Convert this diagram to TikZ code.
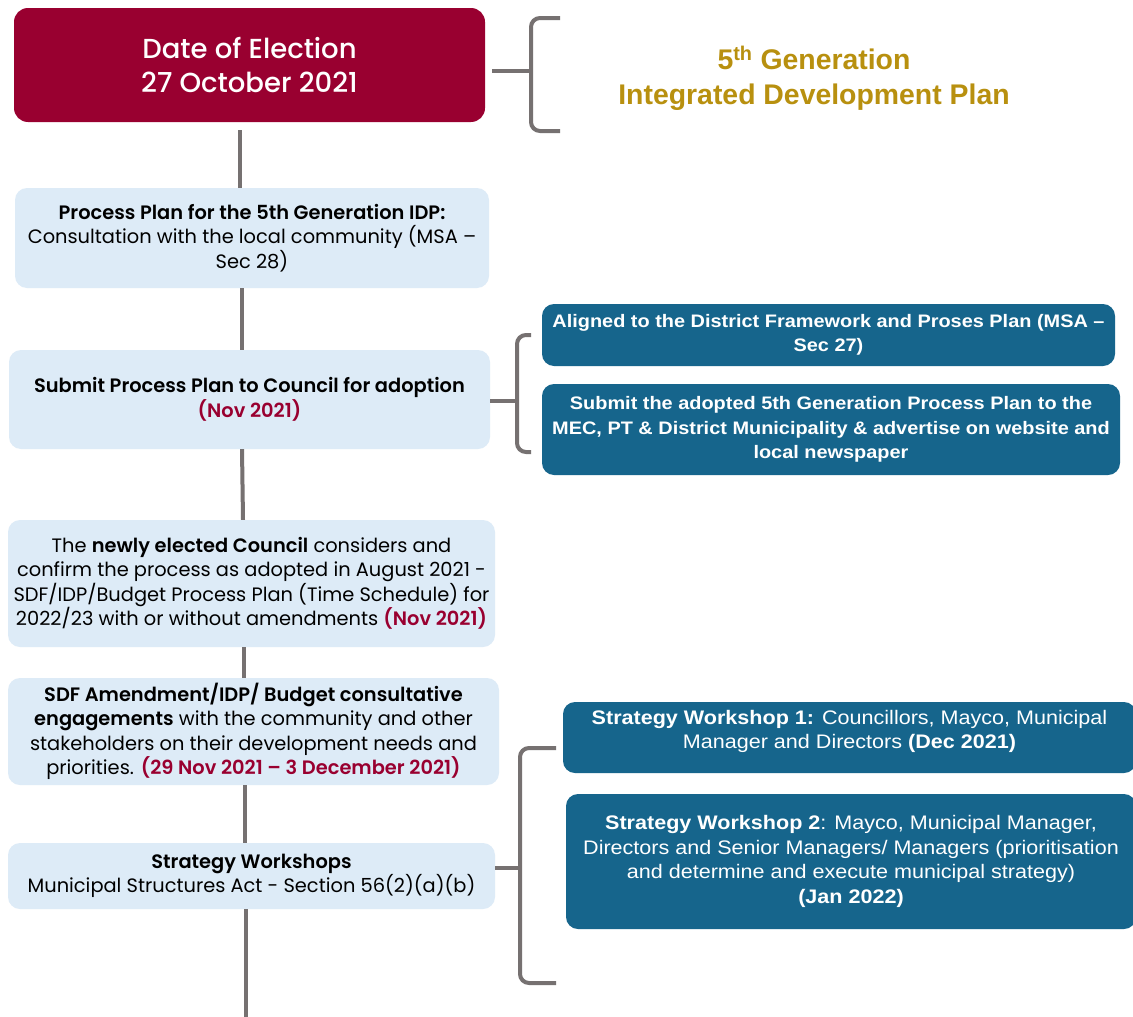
\documentclass[tikz,border=0pt]{standalone}
\usepackage{fontspec}
\setmainfont{Poppins}[BoldFont={Poppins SemiBold}]
\newfontfamily\titlefont{Poppins Medium}
\newfontfamily\widefont[FakeStretch=1.1]{Liberation Sans}
\newfontfamily\arialfont{Liberation Sans}
\definecolor{wine}{HTML}{990030}
\definecolor{paleblue}{HTML}{DDEBF7}
\definecolor{deepblue}{HTML}{16658C}
\definecolor{linegray}{HTML}{767171}
\definecolor{gold}{HTML}{B8900F}
\begin{document}
\begin{tikzpicture}[x=1pt,y=-1pt,
	lbox/.style={fill=paleblue,rounded corners=12pt,align=center,inner sep=0pt,font=\fontsize{19.4}{24.5}\selectfont},
	rbox/.style={fill=deepblue,rounded corners=12pt,align=center,inner sep=0pt,text=white,font=\widefont\fontsize{19.6}{24.5}\selectfont},
	rboldbox/.style={rbox,font=\widefont\bfseries\fontsize{18.1}{24.5}\selectfont},
	link/.style={draw=linegray,line width=4pt},
	brace/.style={draw=linegray,line width=4pt,rounded corners=9pt}]
		\useasboundingbox[fill=white] (0,0) rectangle (1133,1017);
		% left column
		\node[fill=wine,rounded corners=14pt,minimum width=471pt,minimum height=114pt,text=white,align=center,font=\titlefont\fontsize{27.5}{34}\selectfont] (elect) at (249.5,65) {Date of Election\\27 October 2021};
		\node[lbox,minimum width=474pt,minimum height=100pt] (plan) at (252,238) {\textbf{Process Plan for the 5th Generation IDP:}\\Consultation with the local community (MSA –\\Sec 28)};
		\node[lbox,minimum width=481pt,minimum height=99pt] (submit) at (249.5,399.5) {\textbf{Submit Process Plan to Council for adoption}\\\textcolor{wine}{\textbf{(Nov 2021)}}};
		\node[lbox,minimum width=487pt,minimum height=127pt] (council) at (251.5,583.5) {The \textbf{newly elected Council} considers and\\confirm the process as adopted in August 2021 -\\SDF/IDP/Budget Process Plan (Time Schedule) for\\2022/23 with or without amendments \textcolor{wine}{\textbf{(Nov 2021)}}};
		\node[lbox,minimum width=491pt,minimum height=107pt] (engage) at (253.5,731.5) {\textbf{SDF Amendment/IDP/ Budget consultative}\\\textbf{engagements} with the community and other\\stakeholders on their development needs and\\priorities. \textcolor{wine}{\textbf{(29 Nov 2021 – 3 December 2021)}}};
		\node[lbox,minimum width=487pt,minimum height=66pt] (wshop) at (251.5,876) {\textbf{Strategy Workshops}\\Municipal Structures Act - Section 56(2)(a)(b)};
		\coordinate (tail) at (246,1017);
		\draw[link] ([xshift=-9.5pt,yshift=-8pt]elect.south) -- ([xshift=-12pt]plan.north);
		\draw[link] ([xshift=-10pt]plan.south) -- ([xshift=-7.5pt]submit.north);
		\draw[link] ([xshift=-7.5pt]submit.south) -- ([xshift=-8.5pt]council.north);
		\draw[link] ([xshift=-7.5pt]council.south) -- ([xshift=-9.5pt]engage.north);
		\draw[link] ([xshift=-8.5pt]engage.south) -- ([xshift=-6.5pt]wshop.north);
		\draw[link] ([xshift=-5.5pt]wshop.south) -- (tail);
		% right column
		\node[text=gold,align=center,font=\arialfont\bfseries\fontsize{28.4}{35}\selectfont] (idp) at (814,78) {5\textsuperscript{th} Generation\\Integrated Development Plan};
		\node[rboldbox,minimum width=573pt,minimum height=62pt] (align) at (828.5,335) {Aligned to the District Framework and Proses Plan (MSA –\\Sec 27)};
		\node[rboldbox,minimum width=578pt,minimum height=91pt] (adopt) at (831,429.5) {Submit the adopted 5th Generation Process Plan to the\\MEC, PT \& District Municipality \& advertise on website and\\local newspaper};
		\node[rbox,minimum width=573pt,minimum height=71pt] (ws1) at (849.5,737.5) {\textbf{Strategy Workshop 1:} Councillors, Mayco, Municipal\\Manager and Directors \textbf{(Dec 2021)}\\[-8pt]};
		\node[rbox,minimum width=570pt,minimum height=135pt] (ws2) at (851,861.5) {\textbf{Strategy Workshop 2}: Mayco, Municipal Manager,\\Directors and Senior Managers/ Managers (prioritisation\\and determine and execute municipal strategy)\\\textbf{(Jan 2022)}};
		% brackets
		\coordinate (b1) at (531,71);
		\coordinate (b2) at (517,401);
		\coordinate (b3) at (520,868);
		\draw[link] ([xshift=7pt,yshift=-6pt]elect.east) -- (b1);
		\draw[brace] (560,18) -- (531,18) -- (531,131) -- (560,131);
		\draw[link] (submit.east |- b2) -- (b2);
		\draw[brace] (531,335) -- (517,335) -- (517,452) -- (531,452);
		\draw[link] (wshop.east |- b3) -- (b3);
		\draw[brace] (556,748) -- (520,748) -- (520,983) -- (556,983);
	\end{tikzpicture}
\end{document}
